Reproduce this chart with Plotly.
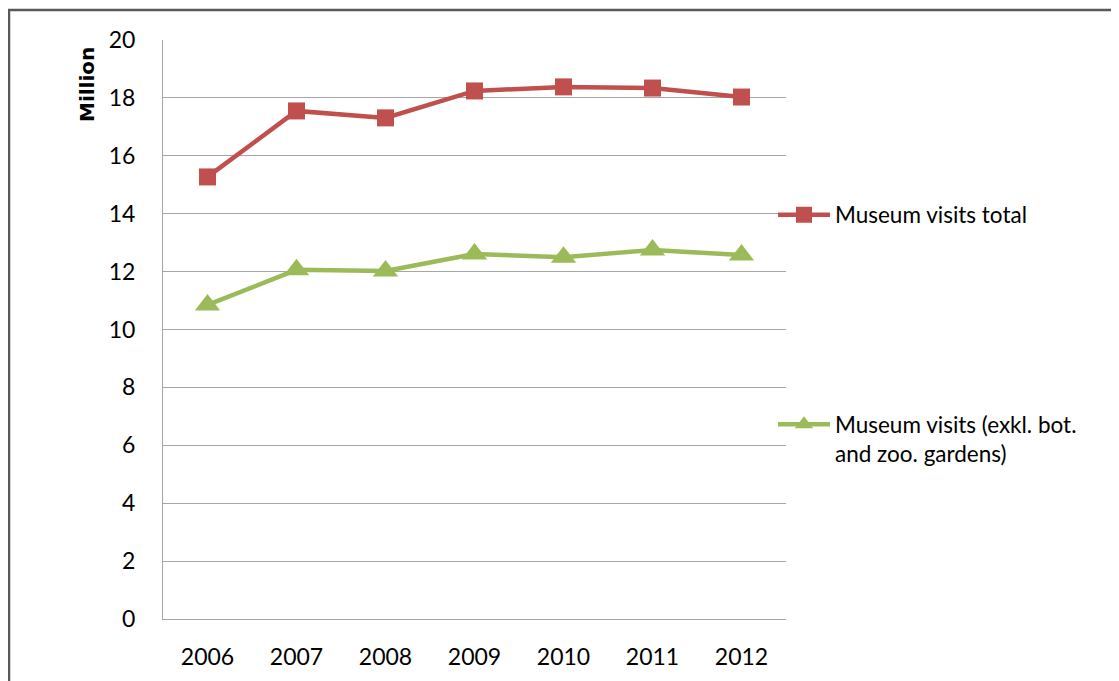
import plotly.graph_objects as go

years = ["2006", "2007", "2008", "2009", "2010", "2011", "2012"]
total_visits = [15.27, 17.55, 17.31, 18.24, 18.38, 18.34, 18.03]
excl_gardens = [10.85, 12.06, 12.02, 12.61, 12.50, 12.75, 12.57]
y_ticks = [0, 2, 4, 6, 8, 10, 12, 14, 16, 18, 20]

RED = "#C0504D"
GREEN = "#9BBB59"
FONT = "Lato, 'DejaVu Sans', sans-serif"

# page body has an 8px margin; figure coordinates = screen - 8
OFF = 8
W, H = 1119 - OFF, 681 - OFF
L, T = 163 - OFF, 40 - OFF
RIGHT, BOTTOM = 786 - OFF, 619 - OFF
R, B = W - RIGHT, H - BOTTOM
pw, ph = W - L - R, H - T - B

def px_x(x):
    return (x - OFF - L) / pw

def px_y(y):
    return (BOTTOM - (y - OFF)) / ph

fig = go.Figure()
fig.add_trace(go.Scatter(
    x=years, y=total_visits, mode="lines+markers",
    name="Museum visits total",
    line=dict(color=RED, width=4.5),
    marker=dict(symbol="square", size=17, color=RED),
    legend="legend",
))
fig.add_trace(go.Scatter(
    x=years, y=excl_gardens, mode="lines+markers",
    name="Museum visits (exkl. bot.<br>and zoo. gardens)",
    line=dict(color=GREEN, width=4.5),
    marker=dict(symbol="triangle-up", size=22, color=GREEN),
    legend="legend2",
))

fig.update_layout(
    width=W, height=H,
    margin=dict(l=L, r=R, t=T, b=B),
    paper_bgcolor="white", plot_bgcolor="white",
    font=dict(family=FONT, color="black", size=22),
    showlegend=True,
    legend=dict(
        x=px_x(773), y=px_y(215), xanchor="left", yanchor="middle",
        font=dict(size=22.5, color="black"), bgcolor="rgba(0,0,0,0)",
        itemwidth=52,
    ),
    legend2=dict(
        x=px_x(773), y=px_y(403), xanchor="left", yanchor="top",
        font=dict(size=22.5, color="black"), bgcolor="rgba(0,0,0,0)",
        valign="top", itemwidth=52,
    ),
    xaxis=dict(
        type="category", range=[-0.5, 6.5],
        showgrid=False, showline=True, linecolor="#A6A6A6", linewidth=1,
        ticks="", tickfont=dict(size=23), ticklabelstandoff=17,
        zeroline=False, fixedrange=True,
    ),
    yaxis=dict(
        range=[0, 20], tickvals=y_ticks, ticktext=[str(v) for v in y_ticks],
        showgrid=True, gridcolor="#A6A6A6", gridwidth=1,
        showline=True, linecolor="#A6A6A6", linewidth=1,
        ticks="", tickfont=dict(size=23), ticklabelstandoff=22,
        zeroline=False, fixedrange=True,
    ),
    annotations=[dict(
        text="<b>Million</b>", textangle=-90, showarrow=False,
        xref="paper", yref="paper", x=px_x(87), y=px_y(85),
        xanchor="center", yanchor="middle",
        font=dict(size=20, color="black", family="'DejaVu Sans', sans-serif"),
    )],
    shapes=[dict(
        type="rect", xref="paper", yref="paper",
        x0=px_x(9), x1=px_x(1140), y0=px_y(10), y1=px_y(720),
        line=dict(color="#595959", width=2.5), fillcolor="rgba(0,0,0,0)",
        layer="below",
    )],
)

fig.write_html("out.html")
